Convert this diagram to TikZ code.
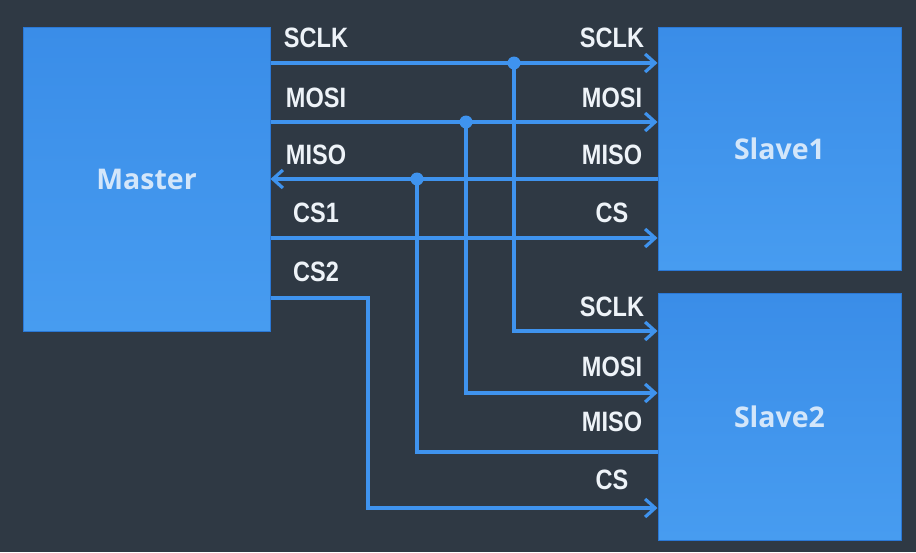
\documentclass[tikz,border=0pt]{standalone}
\usepackage{fontspec}
\setmainfont{Liberation Sans}
\newfontfamily\lblfont[FakeStretch=0.84]{Liberation Sans}
\newfontfamily\boxfont{Open Sans}
\usetikzlibrary{arrows.meta}
\definecolor{bg}{HTML}{2F3944}
\definecolor{boxtop}{HTML}{3A8DE8}
\definecolor{boxbot}{HTML}{479CF0}
\definecolor{boxedge}{HTML}{2A78D6}
\definecolor{wire}{HTML}{3F93EE}
\definecolor{boxtext}{HTML}{D3E6FA}
\definecolor{lbltext}{HTML}{EEF3F8}
\tikzset{
  chip/.style={draw=boxedge, line width=1pt, top color=boxtop, bottom color=boxbot,
    inner sep=0pt, font=\boxfont\bfseries\fontsize{28.5}{28.5}\selectfont, text=boxtext},
  sig/.style={draw=wire, line width=3.2pt},
  arr/.style={-{Straight Barb[length=10pt,width=18pt]}},
  lbl/.style={font=\lblfont\bfseries\fontsize{28}{28}\selectfont, text=lbltext, inner sep=0pt},
  jdot/.style={circle, fill=wire, inner sep=0pt, minimum size=13pt}
}
\begin{document}
\begin{tikzpicture}[x=1pt,y=-1pt]
\fill[bg] (0,0) rectangle (916,552);
\useasboundingbox (0,0) rectangle (916,552);

\node[chip, minimum width=247pt, minimum height=304pt] (M) at (146.5,179) {Master};
\node[chip, minimum width=243pt, minimum height=243pt] (S1) at (779.5,148.5) {Slave1};
\node[chip, minimum width=243pt, minimum height=247pt] (S2) at (779.5,416.5) {Slave2};

% rows
\coordinate (ySCLK) at (0,63);
\coordinate (yMOSI) at (0,122);
\coordinate (yMISO) at (0,179);
\coordinate (yCSa) at (0,238);
\coordinate (yCSb) at (0,298);
\coordinate (zSCLK) at (0,331);
\coordinate (zMOSI) at (0,393);
\coordinate (zMISO) at (0,452);
\coordinate (zCS) at (0,508);
% columns
\coordinate (xSCLK) at (514,0);
\coordinate (xMOSI) at (466,0);
\coordinate (xMISO) at (417,0);
\coordinate (xCSb) at (368,0);

\coordinate (jSCLK) at (xSCLK |- ySCLK);
\coordinate (jMOSI) at (xMOSI |- yMOSI);
\coordinate (jMISO) at (xMISO |- yMISO);

\draw[sig,arr] (M.east |- ySCLK) -- (S1.west |- ySCLK);
\draw[sig,arr] (M.east |- yMOSI) -- (S1.west |- yMOSI);
\draw[sig,arr] (S1.west |- yMISO) -- (M.east |- yMISO);
\draw[sig,arr] (M.east |- yCSa) -- (S1.west |- yCSa);
\draw[sig,arr] (M.east |- yCSb) -| (xCSb |- zCS) -- (S2.west |- zCS);

\draw[sig,arr] (jSCLK) |- (S2.west |- zSCLK);
\draw[sig,arr] (jMOSI) |- (S2.west |- zMOSI);
\draw[sig] (S2.west |- zMISO) -| (jMISO);

\node[jdot] (dSCLK) at (jSCLK) {};
\node[jdot] (dMOSI) at (jMOSI) {};
\node[jdot] (dMISO) at (jMISO) {};

% master side labels
\node[lbl] (lmSCLK) at (316,38) {SCLK};
\node[lbl] (lmMOSI) at (316,98) {MOSI};
\node[lbl] (lmMISO) at (316,155) {MISO};
\node[lbl] (lmCSa) at (316,213) {CS1};
\node[lbl] (lmCSb) at (316,272) {CS2};
% slave1 labels
\node[lbl] (laSCLK) at (612,38) {SCLK};
\node[lbl] (laMOSI) at (612,98) {MOSI};
\node[lbl] (laMISO) at (612,155) {MISO};
\node[lbl] (laCS) at (612,213) {CS};
% slave2 labels
\node[lbl] (lbSCLK) at (612,307) {SCLK};
\node[lbl] (lbMOSI) at (612,367) {MOSI};
\node[lbl] (lbMISO) at (612,422) {MISO};
\node[lbl] (lbCS) at (612,480) {CS};
\end{tikzpicture}
\end{document}
